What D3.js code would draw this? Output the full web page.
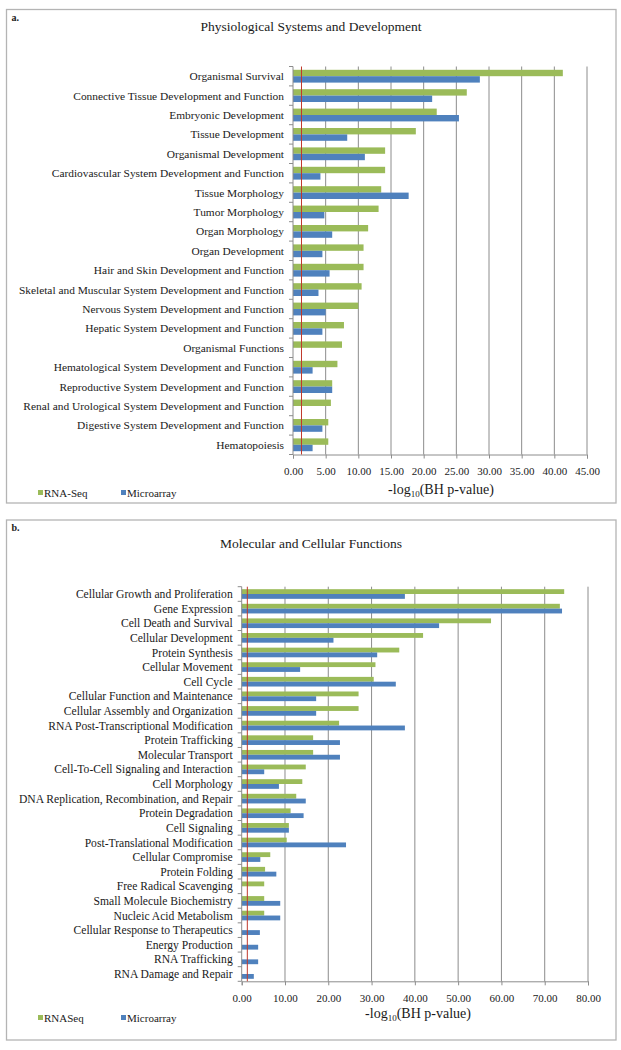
<!DOCTYPE html>
<html>
<head>
<meta charset="utf-8">
<script src="https://cdn.jsdelivr.net/npm/d3@7"></script>
<style>
  body { margin: 0; background: #fff; }
  svg text { font-family: "Liberation Serif", "Times New Roman", serif; fill: #1a1a1a; }
</style>
</head>
<body>
<div class="canvas"></div>
<script>
// panel a data
const physCategories = [
  'Organismal Survival', 'Connective Tissue Development and Function', 'Embryonic Development',
  'Tissue Development', 'Organismal Development', 'Cardiovascular System Development and Function',
  'Tissue Morphology', 'Tumor Morphology', 'Organ Morphology', 'Organ Development',
  'Hair and Skin Development and Function', 'Skeletal and Muscular System Development and Function',
  'Nervous System Development and Function', 'Hepatic System Development and Function',
  'Organismal Functions', 'Hematological System Development and Function',
  'Reproductive System Development and Function', 'Renal and Urological System Development and Function',
  'Digestive System Development and Function', 'Hematopoiesis'
]
const physRnaSeq = [41.3, 26.6, 22.0, 18.8, 14.1, 14.1, 13.5, 13.1, 11.5, 10.8, 10.8, 10.5, 10.0, 7.8, 7.5, 6.8, 6.0, 5.8, 5.4, 5.4]
const physMicroarray = [28.6, 21.3, 25.4, 8.3, 11.0, 4.2, 17.7, 4.8, 6.0, 4.5, 5.6, 3.9, 5.0, 4.5, 0, 3.0, 6.0, 0, 4.5, 3.0]
const physTicks = [0, 5, 10, 15, 20, 25, 30, 35, 40, 45]

// panel b data
const molCategories = [
  'Cellular Growth and Proliferation', 'Gene Expression', 'Cell Death and Survival', 'Cellular Development',
  'Protein Synthesis', 'Cellular Movement', 'Cell Cycle', 'Cellular Function and Maintenance',
  'Cellular Assembly and Organization', 'RNA Post-Transcriptional Modification', 'Protein Trafficking',
  'Molecular Transport', 'Cell-To-Cell Signaling and Interaction', 'Cell Morphology',
  'DNA Replication, Recombination, and Repair', 'Protein Degradation', 'Cell Signaling',
  'Post-Translational Modification', 'Cellular Compromise', 'Protein Folding', 'Free Radical Scavenging',
  'Small Molecule  Biochemistry', 'Nucleic Acid Metabolism', 'Cellular Response to Therapeutics',
  'Energy Production', 'RNA Trafficking', 'RNA Damage and Repair'
]
const molRnaSeq = [74.5, 73.5, 57.6, 41.9, 36.4, 30.9, 30.5, 27.0, 27.0, 22.5, 16.5, 16.5, 14.8, 14.0, 12.6, 11.3, 10.9, 10.4, 6.6, 5.4, 5.2, 5.2, 5.2, 0, 0, 0, 0]
const molMicroarray = [37.7, 74.0, 45.6, 21.2, 31.3, 13.5, 35.6, 17.2, 17.2, 37.7, 22.7, 22.7, 5.2, 8.6, 14.8, 14.3, 10.9, 24.1, 4.3, 8.0, 0, 8.9, 8.9, 4.2, 3.8, 3.8, 2.8]
const molTicks = [0, 10, 20, 30, 40, 50, 60, 70, 80]

const threshold = 1.3 // -log10(0.05)
const colors = { green: '#9bbb59', blue: '#4f81bd', grid: '#8c8c8c', red: '#c0392b' }

const svg = d3.select('.canvas')
  .append('svg')
  .attr('width', 621)
  .attr('height', 1050)

const drawPanel = (cfg) => {
  const g = svg.append('g')

  // frame
  g.append('rect')
    .attr('x', cfg.frame.x).attr('y', cfg.frame.y)
    .attr('width', cfg.frame.w).attr('height', cfg.frame.h)
    .attr('fill', '#fff').attr('stroke', '#b4b4b4').attr('stroke-width', 1.3)

  g.append('text')
    .attr('x', cfg.frame.x + 5).attr('y', cfg.frame.y + 11)
    .attr('font-size', 10).attr('font-weight', 'bold')
    .text(cfg.letter)

  g.append('text')
    .attr('x', 311).attr('y', cfg.titleY)
    .attr('text-anchor', 'middle').attr('font-size', 13.5)
    .text(cfg.title)

  const x = d3.scaleLinear().domain(cfg.domain).range([cfg.x0, cfg.x1])
  const y = d3.scaleBand().domain(cfg.categories).range([cfg.y0, cfg.y1])
    .paddingInner(0.34).paddingOuter(0.17)
  const sub = d3.scaleBand().domain(['rna', 'micro']).range([0, y.bandwidth()])

  // gridlines
  g.append('g').selectAll('line')
    .data(cfg.ticks.filter(t => t > 0))
    .join('line')
      .attr('x1', d => x(d)).attr('x2', d => x(d))
      .attr('y1', cfg.y0).attr('y2', cfg.y1)
      .attr('stroke', colors.grid).attr('stroke-width', 1)

  // x axis
  const xAxis = g.append('g')
    .attr('transform', `translate(0, ${cfg.y1})`)
    .call(d3.axisBottom(x).tickValues(cfg.ticks).tickFormat(d3.format('.2f')).tickSize(4).tickPadding(cfg.tickPad))
  xAxis.select('.domain').attr('stroke', colors.grid)
  xAxis.selectAll('.tick line').attr('stroke', colors.grid)
  xAxis.selectAll('text').attr('font-size', cfg.tickFont).attr('font-family', '"Liberation Serif", serif').attr('fill', '#1a1a1a')

  // bars
  const rows = cfg.categories.map((c, i) => ({ name: c, rna: cfg.rna[i], micro: cfg.micro[i] }))
  const rowG = g.append('g').selectAll('g')
    .data(rows)
    .join('g')
      .attr('transform', d => `translate(0, ${y(d.name)})`)

  rowG.append('rect')
    .attr('x', x(0)).attr('y', sub('rna'))
    .attr('width', d => x(d.rna) - x(0)).attr('height', sub.bandwidth())
    .attr('fill', colors.green)
  rowG.append('rect')
    .attr('x', x(0)).attr('y', sub('micro'))
    .attr('width', d => x(d.micro) - x(0)).attr('height', sub.bandwidth())
    .attr('fill', colors.blue)

  // y axis
  g.append('line')
    .attr('x1', x(0)).attr('x2', x(0)).attr('y1', cfg.y0).attr('y2', cfg.y1)
    .attr('stroke', colors.grid)
  const step = y.step()
  g.append('g').selectAll('line')
    .data(d3.range(cfg.categories.length + 1))
    .join('line')
      .attr('x1', x(0) - 4).attr('x2', x(0))
      .attr('y1', i => cfg.y0 + i * step).attr('y2', i => cfg.y0 + i * step)
      .attr('stroke', colors.grid)
  g.append('g').selectAll('text')
    .data(cfg.categories)
    .join('text')
      .attr('x', x(0) - 9)
      .attr('y', d => y(d) + y.bandwidth() / 2)
      .attr('dy', '0.35em')
      .attr('text-anchor', 'end')
      .attr('font-size', cfg.labelFont)
      .text(d => d)

  // threshold line
  g.append('line')
    .attr('x1', x(threshold)).attr('x2', x(threshold))
    .attr('y1', cfg.y0).attr('y2', cfg.y1)
    .attr('stroke', colors.red).attr('stroke-width', 1)

  // axis title
  const title = g.append('text')
    .attr('x', cfg.axisTitleX).attr('y', cfg.axisTitleY)
    .attr('text-anchor', 'middle').attr('font-size', 14)
  title.append('tspan').text('-log')
  title.append('tspan').attr('font-size', 9).attr('dy', 3).text('10')
  title.append('tspan').attr('dy', -3).text('(BH p-value)')

  // legend
  const legend = g.append('g').attr('transform', `translate(0, ${cfg.legendY})`)
  const items = [{ label: cfg.rnaLabel, color: colors.green, x: 38 }, { label: 'Microarray', color: colors.blue, x: 121 }]
  items.forEach(item => {
    legend.append('rect').attr('x', item.x).attr('y', -7).attr('width', 5).attr('height', 5).attr('fill', item.color)
    legend.append('text').attr('x', item.x + 6).attr('y', 0).attr('font-size', 11).text(item.label)
  })
}

drawPanel({
  letter: 'a.', title: 'Physiological Systems and Development', titleY: 31,
  frame: { x: 6.5, y: 9.5, w: 609.5, h: 493.5 },
  categories: physCategories, rna: physRnaSeq, micro: physMicroarray,
  ticks: physTicks, domain: [0, 45],
  x0: 293, x1: 587, y0: 66.5, y1: 454.5,
  labelFont: 11.4, tickFont: 11, tickPad: 9,
  axisTitleX: 441, axisTitleY: 494,
  legendY: 497, rnaLabel: 'RNA-Seq'
})

drawPanel({
  letter: 'b.', title: 'Molecular and Cellular Functions', titleY: 548,
  frame: { x: 6.5, y: 520, w: 609.5, h: 520 },
  categories: molCategories, rna: molRnaSeq, micro: molMicroarray,
  ticks: molTicks, domain: [0, 80],
  x0: 241.7, x1: 588, y0: 586.7, y1: 981.3,
  labelFont: 11.6, tickFont: 11, tickPad: 9,
  axisTitleX: 418, axisTitleY: 1018,
  legendY: 1022, rnaLabel: 'RNASeq'
})
</script>
</body>
</html>
